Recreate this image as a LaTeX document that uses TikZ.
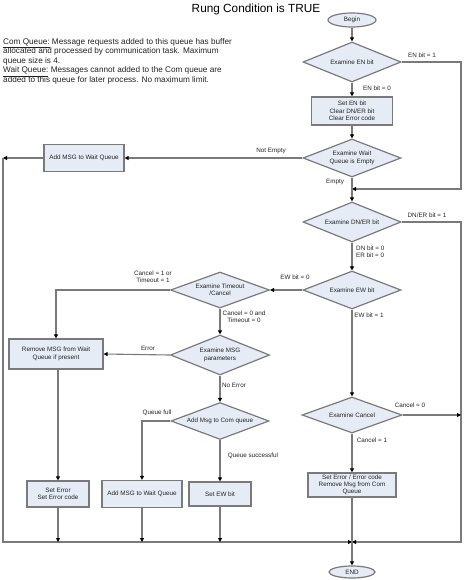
\documentclass[tikz,border=0pt]{standalone}
\usepackage{fontspec}
\setmainfont{Liberation Sans}
\usetikzlibrary{arrows.meta,positioning,shapes.geometric}
\definecolor{boxfill}{HTML}{E6ECF5}
\definecolor{edgegray}{HTML}{7A7A7A}
\definecolor{inkgray}{HTML}{222222}

\tikzset{
  stepbox/.style={draw=edgegray, fill=boxfill, line width=1.2pt, align=center,
    inner sep=0pt, text=inkgray, font=\fontsize{6.3}{7.3}\selectfont},
  decide/.style={diamond, aspect=2.5, draw=edgegray, fill=boxfill, line width=1.2pt,
    align=center, inner sep=0pt, text=inkgray, font=\fontsize{6.3}{7.3}\selectfont},
  term/.style={ellipse, draw=edgegray, fill=boxfill, line width=1.2pt, inner sep=0pt,
    text=inkgray, font=\fontsize{6.3}{7.3}\selectfont},
  wire/.style={draw=edgegray, line width=1.1pt},
  flow/.style={wire, -{Triangle[length=4pt,width=4pt,color=black]}},
  lbl/.style={inner sep=0pt, align=center, text=inkgray, font=\fontsize{6.3}{7.3}\selectfont},
}

\begin{document}
\begin{tikzpicture}[x=1pt, y=-1pt]
  \useasboundingbox (0,0) rectangle (463,580);

  % title and notes
  \node (title) at (256,9) {\fontsize{11.8}{14}\selectfont Rung Condition is TRUE};
  \node[anchor=north west, inner sep=0pt, align=left, text=inkgray,
        font=\fontsize{8.2}{9.6}\selectfont] (notes) at (3,38) {%
    \underline{Com Queue:} Message requests added to this queue has buffer\\
    allocated and processed by communication task. Maximum\\
    queue size is 4.\\
    \underline{Wait Queue:} Messages cannot added to the Com queue are\\
    added to this queue for later process. No maximum limit.};

  % main column
  \node[term, minimum width=48pt, minimum height=14pt] (begin) at (352,20) {Begin};
  \node[decide, minimum width=98pt, minimum height=40pt] (en) at (352,62) {Examine EN bit};
  \node[stepbox, minimum width=81pt, minimum height=28pt] (seten) at (352,111)
    {Set EN bit\\Clear DN/ER bit\\Clear Error code};
  \node[decide, minimum width=98pt, minimum height=38pt] (wait) at (352,158)
    {Examine Wait\\Queue is Empty};
  \node[stepbox, minimum width=80pt, minimum height=27pt] (addwaitA) at (84,158)
    {Add MSG to Wait Queue};
  \node[decide, minimum width=98pt, minimum height=40pt] (dner) at (352,222) {Examine DN/ER bit};
  \node[decide, minimum width=98pt, minimum height=38pt] (ew) at (352,290) {Examine EW bit};
  \node[decide, minimum width=99pt, minimum height=36pt] (timeout) at (220,290)
    {Examine Timeout\\/Cancel};
  \node[decide, minimum width=99pt, minimum height=40pt] (msg) at (220,355)
    {Examine MSG\\parameters};
  \node[stepbox, minimum width=94pt, minimum height=30pt] (remove) at (56,354)
    {Remove MSG from Wait\\Queue if present};
  \node[decide, minimum width=98pt, minimum height=37pt] (addcom) at (220,421)
    {Add Msg to Com queue};
  \node[decide, minimum width=100pt, minimum height=36pt] (cancel) at (352,415) {Examine Cancel};
  \node[stepbox, minimum width=62pt, minimum height=26pt] (seterr) at (58,494)
    {Set Error\\Set Error code};
  \node[stepbox, minimum width=80pt, minimum height=27pt] (addwaitB) at (142,494)
    {Add MSG to Wait Queue};
  \node[stepbox, minimum width=62pt, minimum height=24pt] (setew) at (220,494) {Set EW bit};
  \node[stepbox, minimum width=88pt, minimum height=24pt,
        font=\fontsize{6.3}{6.9}\selectfont] (seterrB) at (352,485)
    {Set Error / Error code\\Remove Msg from Com\\Queue};
  \node[term, minimum width=46pt, minimum height=12pt] (finish) at (352,572) {END};

  % corner points
  \coordinate (rside) at (461,189);
  \coordinate (join) at (352,189);
  \coordinate (lside) at (3,158);
  \coordinate (lcorner) at (3,542);
  \coordinate (rcorner) at (461,542);
  \coordinate (merge) at (352,542);

  % connectors
  \draw[flow] (begin) -- (en);
  \draw[flow] (en.east) -- (en.east -| rside) -- (rside) -- (join);
  \draw[flow] (en) -- (seten);
  \draw[flow] (seten) -- (wait);
  \draw[flow] (wait.west) -- (addwaitA.east);
  \draw[flow] (addwaitA.west) -- (lside);
  \draw[flow] (lside) -- (lcorner) -- (merge);
  \draw[flow] (wait) -- (dner);
  \draw[flow] (dner.east) -- (dner.east -| rcorner) -- (rcorner) -- (merge);
  \draw[flow] (dner) -- (ew);
  \draw[flow] (ew.west) -- (timeout.east);
  \draw[flow] (timeout.west) -| (remove.north);
  \draw[flow] (timeout) -- (msg);
  \draw[flow] (msg.west) -- (remove.east);
  \draw[flow] (remove.south -| seterr.north) -- (seterr.north);
  \draw[flow] (msg) -- (addcom);
  \draw[flow] (addcom.west) -| (addwaitB.north);
  \draw[flow] (addcom) -- (setew);
  \draw[flow] (ew) -- (cancel);
  \draw[flow] (cancel.east) -- (cancel.east -| rcorner);
  \draw[flow] (cancel) -- (seterrB);
  \draw[flow] (seterrB) -- (finish);
  \draw[flow] (seterr.south) -- (seterr.south |- merge);
  \draw[flow] (addwaitB.south) -- (addwaitB.south |- merge);
  \draw[flow] (setew.south) -- (setew.south |- merge);

  % connector labels
  \node[lbl] (lenone) at (422,55) {EN bit = 1};
  \node[lbl] (lenzero) at (377,88) {EN bit = 0};
  \node[lbl] (lnotempty) at (271,151) {Not Empty};
  \node[lbl] (lempty) at (335,182) {Empty};
  \node[lbl] (ldnerone) at (427,215) {DN/ER bit = 1};
  \node[lbl, anchor=west, align=left] (ldnerzero) at (356,252) {DN bit = 0\\ER bit = 0};
  \node[lbl] (lewzero) at (295,277) {EW bit = 0};
  \node[lbl] (lewone) at (369,315) {EW bit = 1};
  \node[lbl] (ltimeone) at (153,277) {Cancel = 1 or\\Timeout = 1};
  \node[lbl] (ltimezero) at (244,317) {Cancel = 0 and\\Timeout = 0};
  \node[lbl] (lerror) at (148,348) {Error};
  \node[lbl] (lnoerror) at (234,385) {No Error};
  \node[lbl] (lfull) at (157,413) {Queue full};
  \node[lbl] (lsuccess) at (253,456) {Queue successful};
  \node[lbl] (lcancelzero) at (410,405) {Cancel = 0};
  \node[lbl] (lcancelone) at (372,440) {Cancel = 1};
\end{tikzpicture}
\end{document}
